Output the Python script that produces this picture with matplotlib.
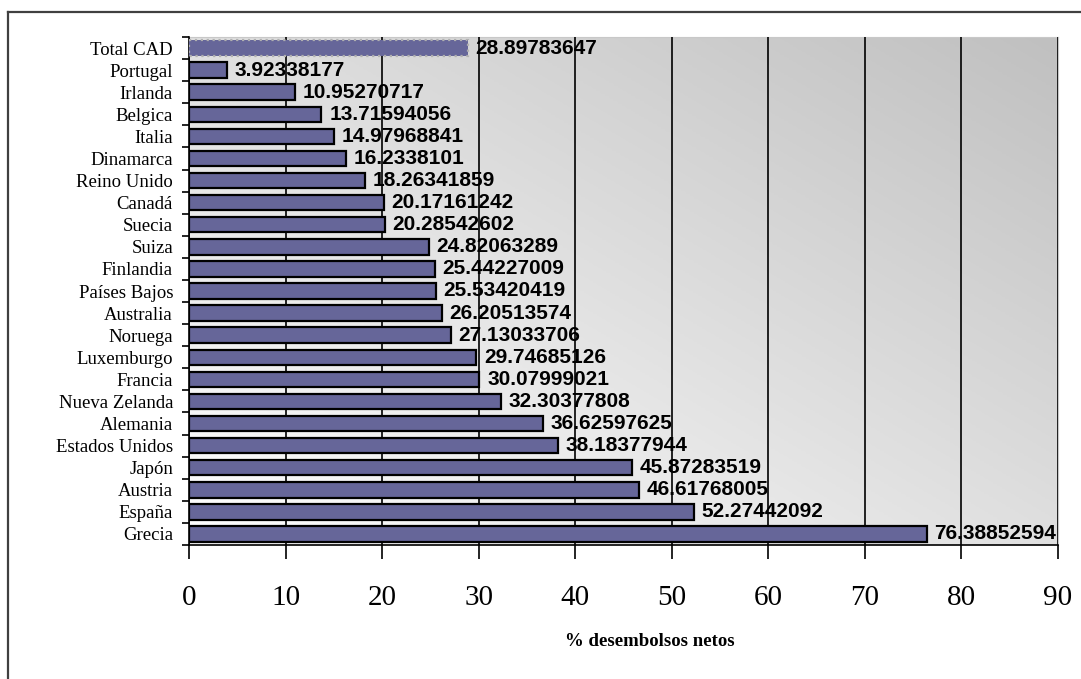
import numpy as np
import matplotlib
matplotlib.use("Agg")
import matplotlib.pyplot as plt
from matplotlib.colors import LinearSegmentedColormap
from matplotlib.lines import Line2D

countries = [
    "Total CAD", "Portugal", "Irlanda", "Belgica", "Italia", "Dinamarca",
    "Reino Unido", "Canadá", "Suecia", "Suiza", "Finlandia", "Países Bajos",
    "Australia", "Noruega", "Luxemburgo", "Francia", "Nueva Zelanda",
    "Alemania", "Estados Unidos", "Japón", "Austria", "España", "Grecia",
]
values = [
    28.89783647, 3.92338177, 10.95270717, 13.71594056, 14.97968841,
    16.2338101, 18.26341859, 20.17161242, 20.28542602, 24.82063289,
    25.44227009, 25.53420419, 26.20513574, 27.13033706, 29.74685126,
    30.07999021, 32.30377808, 36.62597625, 38.18377944, 45.87283519,
    46.61768005, 52.27442092, 76.38852594,
]
x_ticks = [0, 10, 20, 30, 40, 50, 60, 70, 80, 90]

bar_color = "#666699"

fig = plt.figure(figsize=(10.81, 6.79), dpi=100)
ax = fig.add_axes([189 / 1081, 1 - 545 / 679, (1058 - 189) / 1081, (545 - 37) / 679])

# diagonal grey gradient behind the bars
gx, gy = np.meshgrid(np.linspace(0, 1, 200), np.linspace(0, 1, 200))
grad = (gx + gy) / 2
cmap = LinearSegmentedColormap.from_list("bg", ["#ffffff", "#c0c0c0"])
ax.imshow(grad, cmap=cmap, origin="lower", extent=[0, 1, 0, 1],
          transform=ax.transAxes, aspect="auto", zorder=0)

pos = np.arange(len(countries))
bars = ax.barh(pos, values, height=0.7, color=bar_color, edgecolor="black",
               linewidth=1.6, zorder=3)
# the total bar has a light dotted outline
bars[0].set_edgecolor("#b0b0b0")
bars[0].set_linestyle(":")

for p, v in zip(pos, values):
    ax.text(v + 0.8, p, f"{v}", va="center", ha="left",
            fontsize=15, fontweight="bold", family="Liberation Sans",
            zorder=4)

ax.set_xlim(0, 90)
ax.set_ylim(len(countries) - 0.5, -0.5)
ax.set_xticks(x_ticks)
ax.set_xticklabels([str(t) for t in x_ticks], family="Liberation Serif",
                   fontsize=21)
ax.tick_params(axis="x", direction="out", length=10, width=1.2, pad=19)
ax.xaxis.grid(True, color="black", linewidth=1.2, zorder=1)
ax.set_axisbelow(False)

ax.set_yticks(pos)
ax.set_yticklabels(countries, family="Liberation Serif", fontsize=13.5)
ax.set_yticks(np.arange(len(countries) + 1) - 0.5, minor=True)
ax.tick_params(axis="y", which="major", length=0, pad=11.5)
ax.tick_params(axis="y", which="minor", direction="out", length=5, width=1.2)

ax.set_xlabel("% desembolsos netos", family="Liberation Serif",
              fontweight="bold", fontsize=13.5)
ax.xaxis.set_label_coords((650 - 189) / (1058 - 189), -(641 - 545) / (545 - 37))
ax.xaxis.label.set_va("center")

for s in ["top", "right"]:
    ax.spines[s].set_color("#c8c8c8")
for s in ["left", "bottom"]:
    ax.spines[s].set_color("black")
    ax.spines[s].set_linewidth(1.2)

# outer frame of the chart area
fig.add_artist(Line2D([8 / 1081, 8 / 1081], [0, 1 - 12 / 679],
                      color="#404040", linewidth=1.6))
fig.add_artist(Line2D([8 / 1081, 1], [1 - 12 / 679, 1 - 12 / 679],
                      color="#404040", linewidth=1.6))

fig.savefig("out.png", dpi=100)
